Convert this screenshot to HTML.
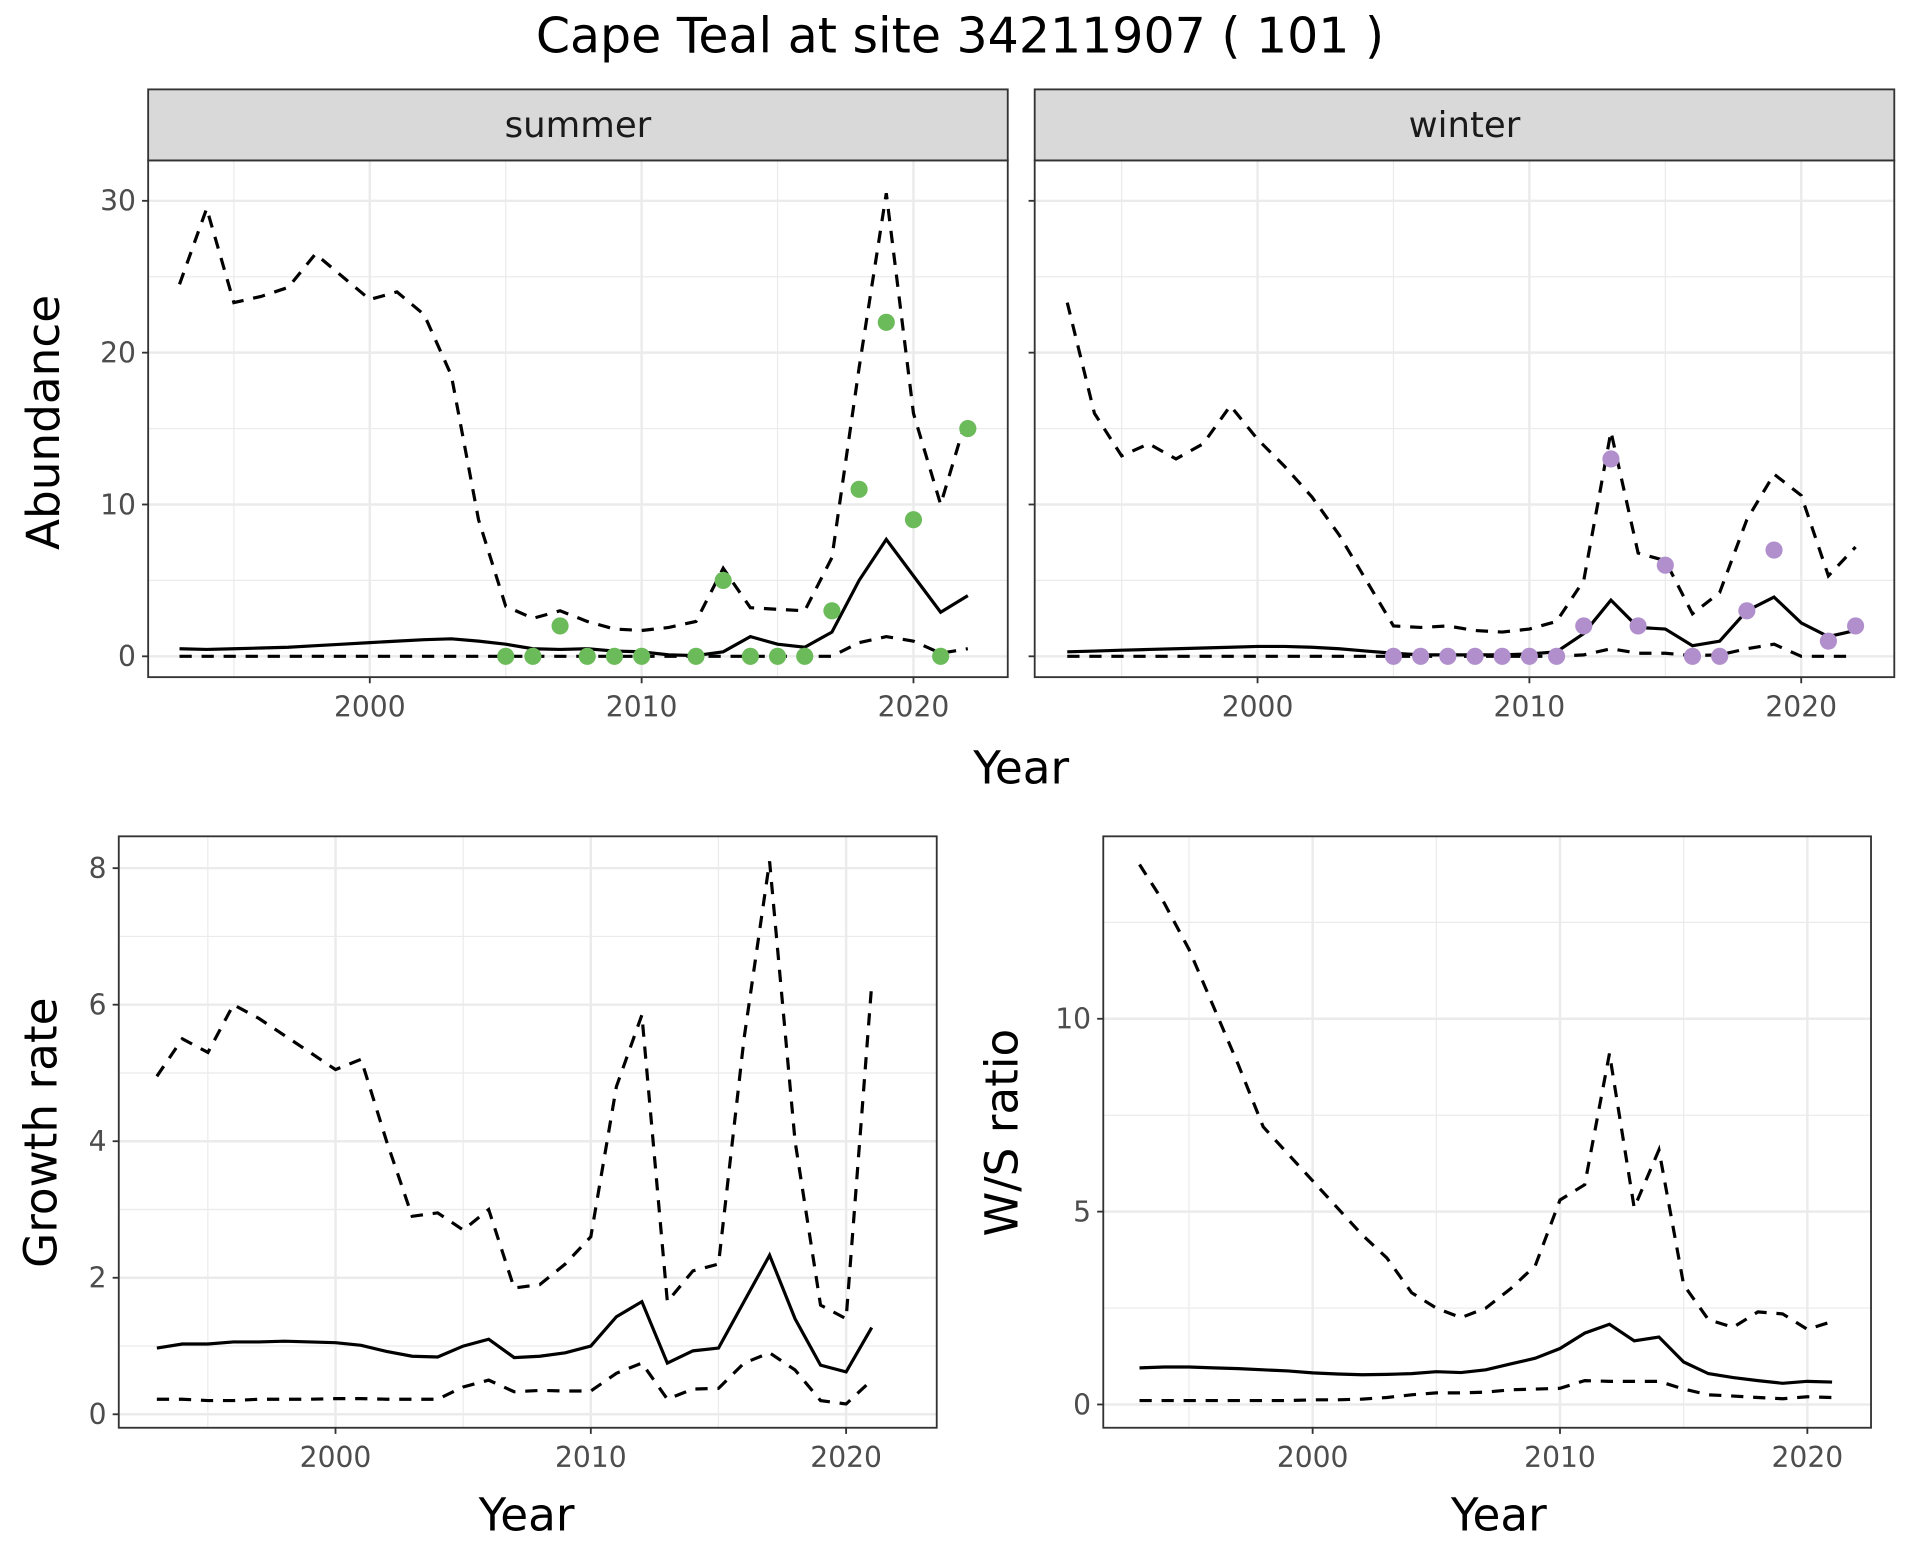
<!DOCTYPE html>
<html><head><meta charset="utf-8"><style>
html,body{margin:0;padding:0;background:#fff;}
svg{display:block;font-family:"DejaVu Sans","Liberation Sans",sans-serif;}
</style></head><body>
<svg id="chart" width="1920" height="1560" viewBox="0 0 1568 1274" xmlns="http://www.w3.org/2000/svg">
<rect width="1568" height="1274" fill="#fff"/>
<text x="784" y="43" font-size="40" text-anchor="middle" fill="#000">Cape Teal at site 34211907 ( 101 )</text>
</svg>
<script>
const yearsAb = [1993,1994,1995,1996,1997,1998,1999,2000,2001,2002,2003,2004,2005,2006,2007,2008,2009,2010,2011,2012,2013,2014,2015,2016,2017,2018,2019,2020,2021,2022];
const sumUpper = [24.5,29.5,23.3,23.7,24.3,26.5,25,23.5,24,22.5,18.5,9,3.3,2.5,3,2.3,1.8,1.7,1.9,2.3,5.8,3.2,3.1,3,6.5,19,30.5,16,10,16];
const sumMean = [0.5,0.45,0.5,0.55,0.6,0.7,0.8,0.9,1.0,1.1,1.15,1.0,0.8,0.5,0.45,0.5,0.35,0.3,0.1,0.05,0.3,1.3,0.8,0.6,1.6,5,7.7,5.3,2.9,4.0];
const sumLower = [0,0,0,0,0,0,0,0,0,0,0,0,0,0,0,0,0,0,0,0,0,0,0,0,0,0.9,1.3,1,0.2,0.5];
const sumPtYears = [2005,2006,2007,2008,2009,2010,2012,2013,2014,2015,2016,2017,2018,2019,2020,2021,2022];
const sumPtVals = [0,0,2,0,0,0,0,5,0,0,0,3,11,22,9,0,15];
const winUpper = [23.3,16,13.2,14,13,14,16.5,14.3,12.5,10.5,8,5,2,1.9,2,1.7,1.6,1.8,2.3,5,14.8,6.8,6.3,2.8,4.2,9,12,10.6,5.3,7.2];
const winMean = [0.3,0.35,0.4,0.45,0.5,0.55,0.6,0.65,0.65,0.6,0.5,0.35,0.2,0.1,0.1,0.1,0.1,0.15,0.3,1.5,3.7,1.9,1.8,0.7,1.0,3,3.9,2.2,1.3,1.7];
const winLower = [0,0,0,0,0,0,0,0,0,0,0,0,0,0,0,0,0,0,0,0.1,0.5,0.2,0.2,0.05,0.1,0.5,0.8,0,0,0];
const winPtYears = [2005,2006,2007,2008,2009,2010,2011,2012,2013,2014,2015,2016,2017,2018,2019,2021,2022];
const winPtVals = [0,0,0,0,0,0,0,2,13,2,6,0,0,3,7,1,2];
const yearsGr = [1993,1994,1995,1996,1997,1998,1999,2000,2001,2002,2003,2004,2005,2006,2007,2008,2009,2010,2011,2012,2013,2014,2015,2016,2017,2018,2019,2020,2021];
const grUpper = [4.95,5.5,5.3,6.0,5.8,5.55,5.3,5.05,5.2,4,2.9,2.95,2.7,3,1.85,1.9,2.2,2.6,4.8,5.85,1.65,2.1,2.2,5.5,8.1,4,1.6,1.4,6.3];
const grMean = [0.97,1.03,1.03,1.06,1.06,1.07,1.06,1.05,1.01,0.92,0.85,0.84,1.0,1.1,0.83,0.85,0.9,1.0,1.43,1.65,0.75,0.93,0.97,1.65,2.33,1.4,0.72,0.62,1.27];
const grLower = [0.22,0.22,0.2,0.2,0.22,0.22,0.22,0.23,0.23,0.22,0.22,0.22,0.4,0.5,0.33,0.35,0.34,0.34,0.6,0.75,0.22,0.37,0.38,0.75,0.9,0.65,0.2,0.15,0.5];
const wsUpper = [14,13,11.8,10.3,8.8,7.2,6.5,5.8,5.1,4.4,3.8,2.9,2.5,2.25,2.5,3,3.6,5.3,5.7,9.1,5.1,6.6,3.1,2.2,2.0,2.4,2.35,1.95,2.15];
const wsMean = [0.95,0.97,0.97,0.95,0.93,0.9,0.87,0.82,0.79,0.77,0.78,0.8,0.85,0.83,0.9,1.05,1.2,1.45,1.85,2.08,1.65,1.75,1.1,0.8,0.7,0.62,0.55,0.6,0.58];
const wsLower = [0.1,0.1,0.1,0.1,0.1,0.1,0.1,0.12,0.12,0.14,0.18,0.25,0.3,0.3,0.32,0.38,0.4,0.42,0.62,0.6,0.6,0.6,0.4,0.25,0.22,0.18,0.15,0.2,0.18];
const xTicks = [2000,2010,2020];
const abTicks = [0,10,20,30];
const grTicks = [0,2,4,6,8];
const wsTicks = [0,5,10];

const NS='http://www.w3.org/2000/svg';
const svg=document.getElementById('chart');
function mk(tag,attrs,parent){const e=document.createElementNS(NS,tag);for(const k in attrs)e.setAttribute(k,attrs[k]);(parent||svg).appendChild(e);return e;}

function panel(p){
  const g=mk('g',{});
  
  
  const sx=v=>p.x0+(v-p.xa)*(p.x1-p.x0)/(p.xb-p.xa);
  const sy=v=>p.y0+(v-p.ya)*(p.y1-p.y0)/(p.yb-p.ya);
  for(let yr=1990;yr<=2030;yr+=5){const x=sx(yr);if(x>p.L&&x<p.R){const l=mk('line',{x1:x,x2:x,y1:p.T,y2:p.B,stroke:'#ebebeb','stroke-width':yr%10?1:2},g);}}
  for(let i=0;i<p.yticks.length;i++){const v=p.yticks[i];const y=sy(v);const l=mk('line',{x1:p.L,x2:p.R,y1:y,y2:y,stroke:'#ebebeb','stroke-width':2},g);
    const ym=sy(v+(p.yticks[1]-p.yticks[0])/2);if(ym>p.T&&ym<p.B){const m=mk('line',{x1:p.L,x2:p.R,y1:ym,y2:ym,stroke:'#ebebeb','stroke-width':1},g);}}
  const lines=[[p.upper,true],[p.lower,true],[p.mean,false]];
  for(const [arr,dash] of lines){
    const pts=arr.map((v,i)=>sx(p.years[i]).toFixed(1)+','+sy(v).toFixed(1)).join(' ');
    const a={points:pts,fill:'none',stroke:'#000','stroke-width':2.6};
    if(dash)a['stroke-dasharray']='10,8';
    const l=mk('polyline',a,g);
    
    
  }
  if(p.ptY){for(let i=0;i<p.ptY.length;i++){const c=mk('circle',{cx:sx(p.ptY[i]),cy:sy(p.ptV[i]),r:7,fill:p.color},g);}}
  const f=mk('rect',{x:p.L,y:p.T,width:p.R-p.L,height:p.B-p.T,fill:'none',stroke:'#333','stroke-width':1.5},g);
  
  for(const t of xTicks){const x=sx(t);mk('line',{x1:x,x2:x,y1:p.B,y2:p.B+5,stroke:'#333','stroke-width':1.5},g);
    const tx=mk('text',{x:x,y:p.B+32,'font-size':23,'text-anchor':'middle',fill:'#4d4d4d'},g);tx.textContent=t;
    }
  for(const t of p.yticks){const y=sy(t);mk('line',{x1:p.L-5,x2:p.L,y1:y,y2:y,stroke:'#333','stroke-width':1.5},g);
    if(p.showY){const tx=mk('text',{x:p.L-10,y:y+8,'font-size':23,'text-anchor':'end',fill:'#4d4d4d'},g);tx.textContent=t;
    }}
  if(p.strip){const s=mk('rect',{x:p.L,y:73,width:p.R-p.L,height:p.T-73,fill:'#d9d9d9',stroke:'#333','stroke-width':1.5},g);
    
    const st=mk('text',{x:(p.L+p.R)/2,y:112,'font-size':29,'text-anchor':'middle',fill:'#1a1a1a'},g);st.textContent=p.strip;
    }
}
panel({name:'summer-panel',L:121,R:823,T:131,B:553,x0:302,x1:746,xa:2000,xb:2020,y0:536,y1:164,ya:0,yb:30,yticks:abTicks,years:yearsAb,upper:sumUpper,mean:sumMean,lower:sumLower,ptY:sumPtYears,ptV:sumPtVals,color:'#6bbb5a',showY:true,strip:'summer'});
panel({name:'winter-panel',L:845,R:1547,T:131,B:553,x0:1027,x1:1471,xa:2000,xb:2020,y0:536,y1:164,ya:0,yb:30,yticks:abTicks,years:yearsAb,upper:winUpper,mean:winMean,lower:winLower,ptY:winPtYears,ptV:winPtVals,color:'#b08fcc',showY:false,strip:'winter'});
panel({name:'growth-rate-panel',L:97,R:765,T:683,B:1166,x0:274,x1:691,xa:2000,xb:2020,y0:1155,y1:709,ya:0,yb:8,yticks:grTicks,years:yearsGr,upper:grUpper,mean:grMean,lower:grLower,showY:true});
panel({name:'ws-ratio-panel',L:901,R:1528,T:683,B:1166,x0:1072,x1:1476,xa:2000,xb:2020,y0:1147,y1:832,ya:0,yb:10,yticks:wsTicks,years:yearsGr,upper:wsUpper,mean:wsMean,lower:wsLower,showY:true});
function label(txt,x,y,rot,name){const t=mk('text',{x:x,y:y,'font-size':37,'text-anchor':'middle',fill:'#000',transform:rot?`rotate(-90 ${x} ${y})`:''});t.textContent=txt;
  }
label('Year',834,640,false,'x-axis-title-top');
label('Abundance',48,345,true,'y-axis-title-abundance');
label('Year',430,1250,false,'x-axis-title-growth');
label('Growth rate',46,925,true,'y-axis-title-growth');
label('Year',1224,1250,false,'x-axis-title-ratio');
label('W/S ratio',831,925,true,'y-axis-title-ratio');
</script>
</body></html>
